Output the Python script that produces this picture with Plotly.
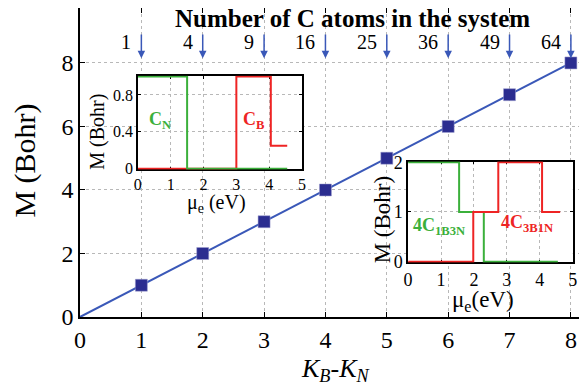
import plotly.graph_objects as go

# ---- data ----
kb_kn = [1, 2, 3, 4, 5, 6, 7, 8]
moment = [1, 2, 3, 4, 5, 6, 7, 8]
line_x = [0, 1, 2, 3, 4, 5, 6, 7, 8]
line_y = [0, 1, 2, 3, 4, 5, 6, 7, 8]
n_atoms = [1, 4, 9, 16, 25, 36, 49, 64]

# inset 1 : C_N and C_B
cn_mu = [0, 1.5, 1.5, 4.55]
cn_m = [1, 1, 0, 0]
cb_mu = [0, 3.0, 3.0, 4.05, 4.05, 4.55]
cb_m = [0, 0, 1, 1, 0.25, 0.25]

# inset 2 : 4C1B3N and 4C3B1N
c1b3n_mu = [0, 1.55, 1.55, 2.3, 2.3, 4.55]
c1b3n_m = [2, 2, 1, 1, 0, 0]
c3b1n_mu = [0, 1.98, 1.98, 2.74, 2.74, 4.07, 4.07, 4.62]
c3b1n_m = [0, 0, 1, 1, 2, 2, 1, 1]

GREEN = "#3bb03b"
RED = "#ee2424"
BLUE_LINE = "#3a58b8"
BLUE_MARK = "#2b2d90"
FONT = "Liberation Serif"

fig = go.Figure()

fig.add_trace(go.Scatter(x=line_x, y=line_y, mode="lines",
                         line=dict(color=BLUE_LINE, width=2), showlegend=False,
                         xaxis="x", yaxis="y"))
fig.add_trace(go.Scatter(x=kb_kn, y=moment, mode="markers",
                         marker=dict(symbol="square", size=12, color=BLUE_MARK,
                                     line=dict(color="#a0a0d0", width=0.5)),
                         showlegend=False, xaxis="x", yaxis="y"))

fig.add_trace(go.Scatter(x=cb_mu, y=cb_m, mode="lines", line=dict(color=RED, width=2),
                         showlegend=False, xaxis="x2", yaxis="y2"))
fig.add_trace(go.Scatter(x=cn_mu, y=cn_m, mode="lines", line=dict(color=GREEN, width=2),
                         showlegend=False, xaxis="x2", yaxis="y2"))

fig.add_trace(go.Scatter(x=c1b3n_mu, y=c1b3n_m, mode="lines", line=dict(color=GREEN, width=2),
                         showlegend=False, xaxis="x3", yaxis="y3"))
fig.add_trace(go.Scatter(x=c3b1n_mu, y=c3b1n_m, mode="lines", line=dict(color=RED, width=2),
                         showlegend=False, xaxis="x3", yaxis="y3"))

grid = dict(showgrid=True, gridcolor="#b8b8b8", griddash="dot", gridwidth=1)
frame = dict(showline=True, linecolor="black", linewidth=1.5, mirror="ticks",
             ticks="inside", tickcolor="black", zeroline=False, automargin=False)
iframe = dict(frame, layer="below traces")

# the page body adds an 8 px offset, so margins are shifted by 8 px
fig.update_layout(
    width=587, height=388,
    margin=dict(l=72, r=10, t=0, b=79, autoexpand=False),
    paper_bgcolor="white", plot_bgcolor="white",
    font=dict(family=FONT, color="black"),
    xaxis=dict(domain=[0, 1], range=[0, 8.23], dtick=1, tick0=0, ticklen=5,
               tickfont=dict(size=24), **grid, **frame),
    yaxis=dict(domain=[0, 1], range=[0, 9.73], tickvals=[0, 2, 4, 6, 8], ticklen=5,
               tickfont=dict(size=24), **grid, **frame),
    xaxis2=dict(domain=[0.1146, 0.4396], range=[0, 5], dtick=1, anchor="y2", ticklen=3,
                tickfont=dict(size=16), **grid, **iframe),
    yaxis2=dict(domain=[0.4774, 0.7806], range=[-0.008, 1.008], tickvals=[0, 0.4, 0.8],
                ticktext=["0", "0.4", "0.8"], anchor="x2", ticklen=3,
                tickfont=dict(size=16), **grid, **iframe),
    xaxis3=dict(domain=[0.6497, 0.9756], range=[0, 5], dtick=1, anchor="y3", ticklen=3,
                tickfont=dict(size=18), **grid, **iframe),
    yaxis3=dict(domain=[0.1765, 0.5032], range=[-0.015, 2.015], dtick=1, anchor="x3",
                ticklen=3, tickfont=dict(size=18), **grid, **iframe),
)

ann = []
# titles
ann.append(dict(text="<b>Number of C atoms in the system</b>", xref="paper", yref="paper",
                x=0.54, y=0.967, showarrow=False, font=dict(size=25),
                xanchor="center", yanchor="middle"))
ann.append(dict(text="<i>K<sub>B</sub>-K<sub>N</sub></i>", xref="paper", yref="paper",
                x=0.505, y=-0.171, showarrow=False, font=dict(size=26),
                xanchor="center", yanchor="middle"))
ann.append(dict(text="M (Bohr)", xref="paper", yref="paper", x=-0.109, y=0.506,
                textangle=-90, showarrow=False, font=dict(size=30),
                xanchor="center", yanchor="middle"))
# inset titles
ann.append(dict(text="M (Bohr)", xref="paper", yref="paper", x=0.034, y=0.6,
                textangle=-90, showarrow=False, font=dict(size=20),
                xanchor="center", yanchor="middle"))
ann.append(dict(text="μ<sub>e</sub> (eV)", xref="paper", yref="paper", x=0.27, y=0.366,
                showarrow=False, font=dict(size=20), xanchor="center", yanchor="middle"))
ann.append(dict(text="M (Bohr)", xref="paper", yref="paper", x=0.598, y=0.316,
                textangle=-90, showarrow=False, font=dict(size=23),
                xanchor="center", yanchor="middle"))
ann.append(dict(text="μ<sub>e</sub>(eV)", xref="paper", yref="paper", x=0.798, y=0.052,
                showarrow=False, font=dict(size=23), xanchor="center", yanchor="middle"))
# inset labels
ann.append(dict(text="<b>C<sub>N</sub></b>", xref="x2", yref="y2", x=0.66, y=0.52,
                showarrow=False, font=dict(size=18, color=GREEN)))
ann.append(dict(text="<b>C<sub>B</sub></b>", xref="x2", yref="y2", x=3.55, y=0.52,
                showarrow=False, font=dict(size=18, color=RED)))
ann.append(dict(text="<b>4C<sub>1B3N</sub></b>", xref="x3", yref="y3", x=0.93, y=0.7,
                showarrow=False, font=dict(size=18, color=GREEN)))
ann.append(dict(text="<b>4C<sub>3B1N</sub></b>", xref="x3", yref="y3", x=3.61, y=0.77,
                showarrow=False, font=dict(size=18, color=RED)))
# atom-count labels and arrows
for k, n in zip(kb_kn, n_atoms):
    ann.append(dict(text=str(n), xref="x", yref="y", x=k - 0.13, y=8.65,
                    showarrow=False, font=dict(size=20), xanchor="right", yanchor="middle"))
    ann.append(dict(text="", xref="x", yref="y", x=k, y=8.15, axref="x", ayref="y",
                    ax=k, ay=8.94, showarrow=True, arrowhead=2, arrowsize=1,
                    arrowwidth=1.5, arrowcolor=BLUE_LINE))
fig.update_layout(annotations=ann)

fig.write_html("out.html")
